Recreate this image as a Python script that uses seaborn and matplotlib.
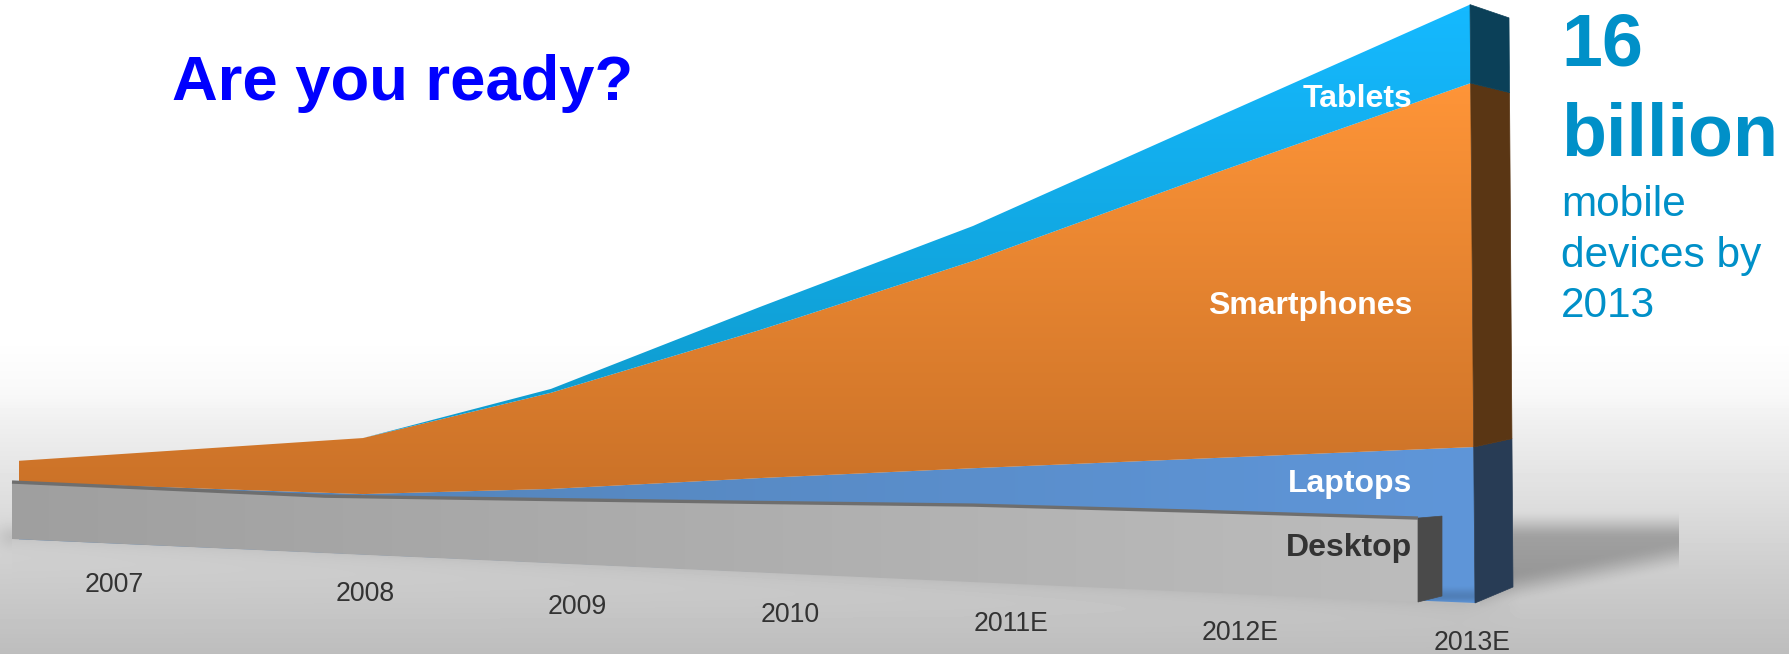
import numpy as np
import pandas as pd
import matplotlib
matplotlib.use("Agg")
import matplotlib.pyplot as plt
from matplotlib.patches import Polygon
import seaborn as sns

# Installed base by device class, billions of units
years = ["2007", "2008", "2009", "2010", "2011E", "2012E", "2013E"]
desktop = [2.24, 2.03, 2.13, 2.22, 2.31, 2.30, 2.27]
laptops = [0.00, 0.10, 0.34, 0.75, 1.08, 1.49, 1.90]
smartphones = [0.84, 1.98, 3.22, 4.69, 6.22, 8.07, 9.73]
tablets = [0.00, 0.00, 0.13, 0.73, 1.05, 1.56, 2.10]

W, H = 1789, 654

# Perspective layout of the two extruded slabs, in canvas pixels
wall_x = np.array([19, 363, 551, 760, 973, 1215, 1470], float)
block_x = np.array([12, 325, 551, 760, 973, 1200, 1418], float)
label_x = [114, 365, 577, 790, 1011, 1240, 1472]
label_y = [585, 594, 607, 615, 624, 633, 643]


def wall_y(x, v):
    base = 539 + (x - 12) * 64 / 1458
    scale = 0.68 + 0.32 * (x - 12) / 1458
    return base - np.asarray(v) * 37.4 * scale


def block_y(x, v):
    base = 539 + (x - 12) * 63 / 1406
    scale = 0.68 + 0.32 * (x - 12) / 1458
    return base - np.asarray(v) * 37.4 * scale


def block_floor(x):
    return block_y(x, 0.0)


def wall_front_x(v):
    """The wall's front corner leans slightly inward with height."""
    return 1475 - 5 * v / 16


def wall_back(v):
    """Far corner of the wall's end face at stacked height v."""
    return (1513 - 4 * v / 16, 587 - v * 35.57)


def wall_edge(cum):
    """Projected outline of a stacked level along the years."""
    xs = wall_x.copy()
    xs[-1] = wall_front_x(cum[-1])
    ys = wall_y(wall_x, cum)
    return xs, ys


def gradient_v(c0, y0, c1, y1):
    """Vertical colour ramp over the canvas, c0 at y0 and c1 at y1."""
    t = np.clip((np.arange(H) - y0) / (y1 - y0), 0, 1)[:, None, None]
    c0 = np.array(matplotlib.colors.to_rgb(c0))[None, None, :]
    c1 = np.array(matplotlib.colors.to_rgb(c1))[None, None, :]
    return np.tile(c0 * (1 - t) + c1 * t, (1, W, 1))


def gradient_h(c0, x0, c1, x1):
    """Horizontal colour ramp over the canvas, c0 at x0 and c1 at x1."""
    t = np.clip((np.arange(W) - x0) / (x1 - x0), 0, 1)[None, :, None]
    c0 = np.array(matplotlib.colors.to_rgb(c0))[None, None, :]
    c1 = np.array(matplotlib.colors.to_rgb(c1))[None, None, :]
    return np.tile(c0 * (1 - t) + c1 * t, (H, 1, 1))


def painted_band(ax, image, top, bottom, z):
    """Fill between two (xs, ys) edges with a gradient image clipped to the band."""
    pts = np.vstack([np.column_stack(top), np.column_stack(bottom)[::-1]])
    patch = Polygon(pts, closed=True, transform=ax.transData, fc="none", ec="none")
    ax.add_patch(patch)
    im = ax.imshow(image, extent=[0, W, H, 0], aspect="auto", zorder=z,
                   interpolation="bilinear")
    im.set_clip_path(patch)


def smooth(t):
    t = np.clip(t, 0, 1)
    return t * t * (3 - 2 * t)


def floor_and_shadow():
    """Grey floor fading to white, with the cast shadows of the slabs."""
    yy, xx = np.mgrid[0:H, 0:W].astype(float)
    shade = np.interp(yy, [0, 337, 395, 420, 500, 560, 654],
                      [255, 255, 248, 240, 222, 208, 189])
    # shadow thrown to the right of the tall end, with a hard cut on its far side
    lower = 588 - (xx - 1510) * 33 / 169
    band = smooth((yy - 509) / 30) * (1 - smooth((yy - lower + 16) / 32))
    band *= (xx >= 1480) & (xx < 1679)
    shade -= 54 * band
    # soft contact shadow under the front block
    floor = block_floor(xx)
    taper = np.clip((1520 - xx) / 60, 0, 1)
    soft = np.exp(-np.maximum(yy - floor, 0) / 10) * (yy >= floor - 40)
    shade -= 14 * soft * taper * (xx >= 12)
    left = np.exp(-((xx - 12) / 16) ** 2) * np.exp(-((yy - 536) / 12) ** 2)
    shade -= 18 * left * (xx < 12)
    return np.clip(shade, 0, 255) / 255


sns.set_theme(style="white")
plt.rcParams["font.family"] = ["Liberation Sans", "DejaVu Sans"]

fig = plt.figure(figsize=(W / 100, H / 100), dpi=100)
ax = fig.add_axes([0, 0, 1, 1])
ax.set_axis_off()

ax.imshow(floor_and_shadow(), cmap="gray", vmin=0, vmax=1,
          extent=[0, W, H, 0], aspect="auto", zorder=0)

# Cumulative heights of the stacked wall
cum_d = np.array(desktop)
cum_l = cum_d + np.array(laptops)
cum_s = cum_l + np.array(smartphones)
cum_t = cum_s + np.array(tablets)

floor_edge = wall_edge(np.zeros(7))
l_edge = wall_edge(cum_l)
s_edge = wall_edge(cum_s)
t_edge = wall_edge(cum_t)

laptop_fill = gradient_h("#5484BA", 300, "#5F96D9", 1470)
# the block's shadow darkens the foot of the wall
rows = np.arange(H)
foot = (smooth((rows - 584) / 12) * (1 - smooth((rows - 596) / 8)))[:, None, None]
laptop_fill = laptop_fill * (1 - 0.15 * foot)
painted_band(ax, laptop_fill, l_edge, floor_edge, 2)
painted_band(ax, gradient_v("#FF9538", 80, "#CB7228", 490), s_edge, l_edge, 3)
painted_band(ax, gradient_v("#15B9FF", 10, "#0F9DD0", 395), t_edge, s_edge, 3)

# Dark end face of the wall, receding to the right
end_values = [0.0, cum_l[-1], cum_s[-1], cum_t[-1]]
end_colors = ["#283C55", "#5A3614", "#0B4058"]
for lo, hi, color in zip(end_values[:-1], end_values[1:], end_colors):
    ax.add_patch(Polygon([(wall_front_x(lo), wall_y(wall_x[-1], lo)), wall_back(lo),
                          wall_back(hi), (wall_front_x(hi), wall_y(wall_x[-1], hi))],
                         closed=True, fc=color, ec=color, lw=0.5, zorder=4))

# Front block for desktops
block_top = block_y(block_x, cum_d)
block_bottom = block_floor(block_x)
painted_band(ax, gradient_h("#9F9F9F", 0, "#BCBCBC", 1418),
             (block_x, block_top), (block_x, block_bottom), 5)
ax.add_patch(Polygon([(block_x[-1], block_top[-1]), (1442, block_top[-1] - 2),
                      (1442, block_bottom[-1] - 6), (block_x[-1], block_bottom[-1])],
                     closed=True, fc="#4A4A4A", ec="#4A4A4A", lw=0.5, zorder=5))

# Thin top face of the block, drawn over the gradient fills
edges = pd.DataFrame({"x": block_x, "y": block_top})
sns.lineplot(data=edges, x="x", y="y", color="#6E6E6E", lw=2.4, estimator=None,
             sort=False, legend=False, ax=ax, zorder=6, solid_capstyle="butt")
ax.set_axis_off()
ax.set_xlim(0, W)
ax.set_ylim(H, 0)

# Year labels follow the perspective of the floor
for name, x, y in zip(years, label_x, label_y):
    ax.text(x, y, name, ha="center", va="center", fontsize=19.2, color="#333333", zorder=8)

# Series names
for name, y, color in [("Tablets", 107, "white"), ("Smartphones", 314, "white"),
                       ("Laptops", 492, "white"), ("Desktop", 556, "#333333")]:
    ax.text(1412, y, name, ha="right", va="baseline", fontsize=23, fontweight="bold",
            color=color, zorder=8)

# Headline and call-out
ax.text(172, 100, "Are you ready?", ha="left", va="baseline", fontsize=45.6,
        fontweight="bold", color="#0000FF", zorder=8)
blue = "#0090C8"
ax.text(1561, 66, "16", ha="left", va="baseline", fontsize=53, fontweight="bold", color=blue, zorder=8)
ax.text(1561, 155, "billion", ha="left", va="baseline", fontsize=53, fontweight="bold", color=blue, zorder=8)
for line, y in [("mobile", 216), ("devices by", 267), ("2013", 317)]:
    ax.text(1561, y, line, ha="left", va="baseline", fontsize=30.5, color=blue, zorder=8)

ax.set_xlim(0, W)
ax.set_ylim(H, 0)
fig.savefig("out.png", dpi=100)
